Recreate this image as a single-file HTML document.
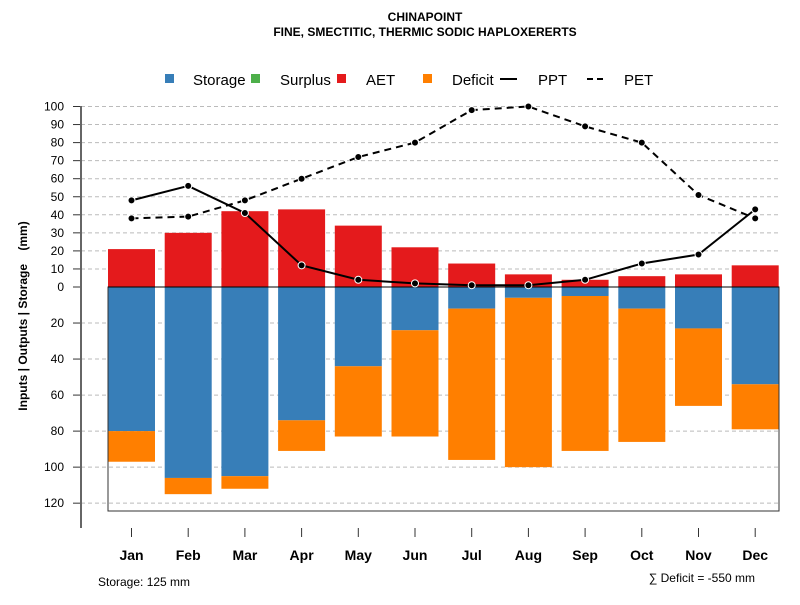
<!DOCTYPE html>
<html><head><meta charset="utf-8"><style>
body{margin:0;background:#fff}
svg{font-family:"Liberation Sans",Arial,sans-serif}
</style></head><body>
<svg id="chart" width="800" height="600" xmlns="http://www.w3.org/2000/svg">
<text x="425" y="21" text-anchor="middle" font-size="12" font-weight="bold">CHINAPOINT</text>
<text x="425" y="36" text-anchor="middle" font-size="12" font-weight="bold">FINE, SMECTITIC, THERMIC SODIC HAPLOXERERTS</text>
<g id="grid"></g>
<g id="bars"></g>
<rect x="108" y="287" width="671" height="224" fill="none" stroke="#333" stroke-width="1"/>
<line x1="108" y1="287" x2="779" y2="287" stroke="#000" stroke-width="1"/>
<g id="lines"></g>
<g id="axes"></g>
<text transform="translate(27,316) rotate(-90)" text-anchor="middle" font-size="12" font-weight="bold">Inputs | Outputs | Storage&#160;&#160;&#160;&#160;(mm)</text>
<g font-size="15">
<rect x="165" y="74" width="9" height="9" fill="#377EB8"/>
<text x="193" y="85">Storage</text>
<rect x="251" y="74" width="9" height="9" fill="#4DAF4A"/>
<text x="280" y="85">Surplus</text>
<rect x="337" y="74" width="9" height="9" fill="#E41A1C"/>
<text x="366" y="85">AET</text>
<rect x="423" y="74" width="9" height="9" fill="#FF7F00"/>
<text x="452" y="85">Deficit</text>
<line x1="500" y1="79" x2="517" y2="79" stroke="#000" stroke-width="2"/>
<text x="538" y="85">PPT</text>
<line x1="587" y1="79" x2="607" y2="79" stroke="#000" stroke-width="2" stroke-dasharray="6,4"/>
<text x="624" y="85">PET</text>
</g>
<text x="98" y="586" font-size="12">Storage: 125 mm</text>
<text x="755" y="582" text-anchor="end" font-size="12">∑ Deficit = -550 mm</text>
</svg>
<script>
const months=["Jan","Feb","Mar","Apr","May","Jun","Jul","Aug","Sep","Oct","Nov","Dec"];
const aet=[21,30,42,43,34,22,13,7,4,6,7,12];
const storage=[80,106,105,74,44,24,12,6,5,12,23,54];
const deficit=[17,9,7,17,39,59,84,94,86,74,43,25];
const ppt=[48,56,41,12,4,2,1,1,4,13,18,43];
const pet=[38,39,48,60,72,80,98,100,89,80,51,38];
const upTicks=[0,10,20,30,40,50,60,70,80,90,100];
const downTicks=[20,40,60,80,100,120];
const NS="http://www.w3.org/2000/svg";
const y0=287,k=1.805;
const yUp=v=>y0-v*k, yDn=v=>y0+v*k*0.998;
const xC=i=>131.5+i*56.7;
const bw=47;
function mk(tag,attrs,parent){const e=document.createElementNS(NS,tag);for(const a in attrs)e.setAttribute(a,attrs[a]);document.getElementById(parent).appendChild(e);return e;}
upTicks.forEach(t=>{const y=yUp(t);
 if(t>0){const g=mk('line',{x1:81,x2:779,y1:y,y2:y,stroke:'#bbb','stroke-dasharray':'4,3'},'grid');
 
 }
 const tk=mk('line',{x1:73,x2:81,y1:y,y2:y,stroke:'#333'},'axes');
 
 
 const tx=mk('text',{x:64,y:y+4,'text-anchor':'end','font-size':12},'axes');tx.textContent=t;
 
 
});
downTicks.forEach(t=>{const y=yDn(t);
 const g=mk('line',{x1:81,x2:779,y1:y,y2:y,stroke:'#bbb','stroke-dasharray':'4,3'},'grid');
 
 
 const tk=mk('line',{x1:73,x2:81,y1:y,y2:y,stroke:'#333'},'axes');
 
 
 const tx=mk('text',{x:64,y:y+4,'text-anchor':'end','font-size':12},'axes');tx.textContent=t;
 
 
});
const ax=mk('line',{x1:81,x2:81,y1:106,y2:528,stroke:'#666','stroke-width':2},'axes');


months.forEach((m,i)=>{const x=xC(i);
 const a=mk('rect',{x:x-bw/2,y:yUp(aet[i]),width:bw,height:aet[i]*k,fill:'#E41A1C'},'bars');
 
 
 const s=mk('rect',{x:x-bw/2,y:y0,width:bw,height:yDn(storage[i])-y0,fill:'#377EB8'},'bars');
 
 
 const d=mk('rect',{x:x-bw/2,y:yDn(storage[i]),width:bw,height:yDn(storage[i]+deficit[i])-yDn(storage[i]),fill:'#FF7F00'},'bars');
 
 
 const tk=mk('line',{x1:x,x2:x,y1:528,y2:537,stroke:'#333'},'axes');
 
 
 const tx=mk('text',{x:x,y:560,'text-anchor':'middle','font-size':14,'font-weight':'bold'},'axes');tx.textContent=m;
 
 
});
function series(vals,name,dash){
 const p=mk('polyline',{points:vals.map((v,i)=>xC(i)+','+yUp(v)).join(' '),fill:'none',stroke:'#000','stroke-width':2,'stroke-dasharray':dash},'lines');
 
 
 vals.forEach((v,i)=>{const c=mk('circle',{cx:xC(i),cy:yUp(v),r:3.5,fill:'#000',stroke:'#fff','stroke-width':1},'lines');
 
 });
}
series(pet,'pet','7,5');
series(ppt,'ppt','none');
</script>
</body></html>
